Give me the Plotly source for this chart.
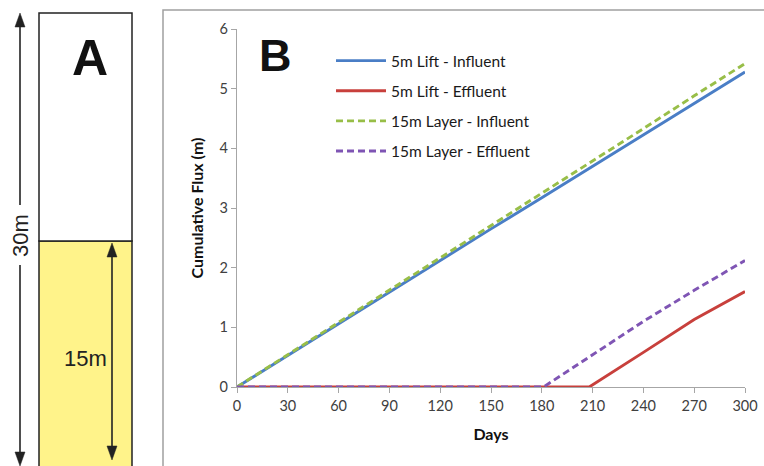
import plotly.graph_objects as go

# ---- data ----
days = [0, 30, 60, 90, 120, 150, 180, 210, 240, 270, 300]
lift_influent = [0, 0.53, 1.07, 1.60, 2.12, 2.65, 3.17, 3.70, 4.23, 4.76, 5.28]
layer_influent = [0, 0.54, 1.09, 1.63, 2.17, 2.71, 3.25, 3.79, 4.33, 4.88, 5.42]
lift_eff_days = [0, 208, 240, 270, 300]
lift_effluent = [0, 0, 0.58, 1.13, 1.60]
layer_eff_days = [0, 181, 210, 240, 270, 300]
layer_effluent = [0, 0, 0.54, 1.10, 1.62, 2.12]
x_ticks = [0, 30, 60, 90, 120, 150, 180, 210, 240, 270, 300]
y_ticks = [0, 1, 2, 3, 4, 5, 6]

W, H = 764, 466
def px(x):
    return x / W
def py(y):
    return 1 - y / H

FONT = "Lato"
LW = 2.9
fig = go.Figure()
fig.add_trace(go.Scatter(x=days, y=lift_influent, mode="lines", name="5m Lift - Influent",
                         line=dict(color="#4A7EC6", width=LW), legendgroup="a"))
fig.add_trace(go.Scatter(x=lift_eff_days, y=lift_effluent, mode="lines", name="5m Lift - Effluent",
                         line=dict(color="#C8403C", width=LW), legendgroup="b"))
fig.add_trace(go.Scatter(x=days, y=layer_influent, mode="lines", name="15m Layer - Influent",
                         line=dict(color="#98BE48", width=LW, dash="7px,4px"), legendgroup="c"))
fig.add_trace(go.Scatter(x=layer_eff_days, y=layer_effluent, mode="lines", name="15m Layer - Effluent",
                         line=dict(color="#7F55B4", width=LW, dash="7px,4px"), legendgroup="d"))

axis_col = "#A6A6A6"
fig.update_layout(
    width=W, height=H, autosize=False,
    margin=dict(l=0, r=0, t=0, b=0, pad=0, autoexpand=False),
    paper_bgcolor="white", plot_bgcolor="white",
    font=dict(family=FONT, size=14.5, color="#404040"),
    xaxis=dict(domain=[px(237), px(745)], range=[0, 300], tickvals=x_ticks,
               showgrid=False, zeroline=False, showline=True, linecolor=axis_col, linewidth=1.3,
               ticks="outside", ticklen=5, tickcolor=axis_col,
               title=dict(text="<b>Days</b>", font=dict(size=16, color="#111111"), standoff=16)),
    yaxis=dict(domain=[1 - 387 / H, 1 - 29 / H], range=[0, 6], tickvals=y_ticks,
               showgrid=False, zeroline=False, showline=True, linecolor=axis_col, linewidth=1.3,
               ticks="outside", ticklen=5, tickcolor=axis_col,
               title=dict(text="<b>Cumulative Flux (m)</b>", font=dict(size=16, color="#111111"), standoff=11)),
    legend=dict(x=px(331), y=py(44), xanchor="left", yanchor="top", bgcolor="rgba(0,0,0,0)",
                font=dict(size=15.5, color="#1a1a1a"), tracegroupgap=7, itemwidth=50),
    showlegend=True,
)

INK = "#222222"
shapes = []
# Panel B frame
shapes.append(dict(type="rect", xref="paper", yref="paper", x0=px(163), x1=px(790), y0=py(490), y1=py(10),
                   line=dict(color="#A0A0A0", width=1.5), fillcolor="rgba(0,0,0,0)", layer="below"))
# Panel A column
shapes.append(dict(type="rect", xref="paper", yref="paper", x0=px(39), x1=px(132), y0=py(490), y1=py(241),
                   line=dict(color=INK, width=1.5), fillcolor="#FFF38A", layer="below"))
shapes.append(dict(type="rect", xref="paper", yref="paper", x0=px(39), x1=px(132), y0=py(241), y1=py(13),
                   line=dict(color=INK, width=1.5), fillcolor="white", layer="below"))

def vline(x, y0, y1):
    shapes.append(dict(type="line", xref="paper", yref="paper", x0=px(x), x1=px(x), y0=py(y0), y1=py(y1),
                       line=dict(color=INK, width=1.6)))

def head(x, y_tip, direction):
    # direction: -1 pointing up, +1 pointing down
    hw, hh = 5, 14
    yb = y_tip - direction * hh
    path = "M {:.5f},{:.5f} L {:.5f},{:.5f} L {:.5f},{:.5f} Z".format(
        px(x), py(y_tip), px(x - hw), py(yb), px(x + hw), py(yb))
    shapes.append(dict(type="path", xref="paper", yref="paper", path=path,
                       fillcolor=INK, line=dict(color=INK, width=0.5)))

# 30m arrow (with gap for label)
vline(20, 20, 205)
vline(20, 265, 460)
head(20, 13, -1)
head(20, 466, 1)
# 15m arrow
vline(112, 250, 453)
head(112, 243, -1)
head(112, 460, 1)
fig.update_layout(shapes=shapes)

ann = []
def label(x, y, text, size, angle=0, family="Liberation Sans", color=INK):
    ann.append(dict(xref="paper", yref="paper", x=px(x), y=py(y), text=text, showarrow=False,
                    xanchor="center", yanchor="middle", textangle=angle,
                    font=dict(family=family, size=size, color=color)))
label(20, 236, "30m", 22, angle=-90)
label(85, 358, "15m", 22)
label(90, 58, "<b>A</b>", 50, color="#111111")
label(275, 56, "<b>B</b>", 45, color="#111111")
fig.update_layout(annotations=ann)

fig.write_html("out.html", config={"displayModeBar": False},
               post_script="document.body.style.margin='0';document.body.style.overflow='hidden';")
